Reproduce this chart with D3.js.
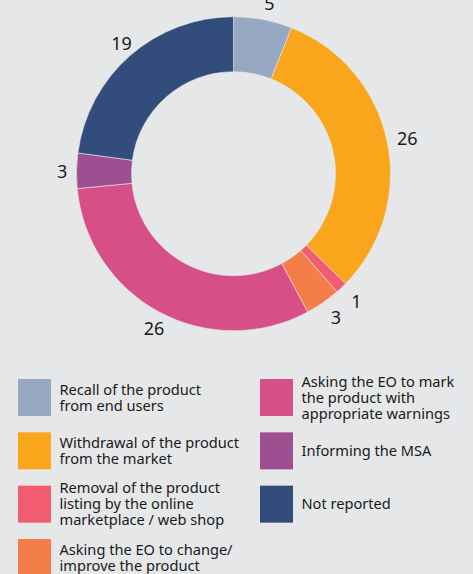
<!DOCTYPE html>
<html>
<head>
<meta charset="utf-8">
<script src="https://cdn.jsdelivr.net/npm/d3@7"></script>
<style>
  html, body { margin: 0; padding: 0; background: #e6e7e8; }
  svg { display: block; font-family: "Noto Sans", sans-serif; }
</style>
</head>
<body>
<script>
var categories = [
    "Recall of the product\nfrom end users",
    "Withdrawal of the product\nfrom the market",
    "Removal of the product\nlisting by the online\nmarketplace / web shop",
    "Asking the EO to change/\nimprove the product",
    "Asking the EO to mark\nthe product with\nappropriate warnings",
    "Informing the MSA",
    "Not reported"
];
var values = [5, 26, 1, 3, 26, 3, 19];
var colors = ["#97a8c3", "#f9a61d", "#f15d6e", "#f47d4a", "#d65087", "#9e4f92", "#324d7c"];

var svgWidth = 473;
var svgHeight = 574;

var cx = 233.5, cy = 173.7;
var outerR = 157, innerR = 102, labelR = 174.5;

var svg = d3.select("body")
    .append("svg")
    .attr("width", svgWidth)
    .attr("height", svgHeight);

var data = categories.map(function(c, i) {
    return { name: c, value: values[i], color: colors[i] };
});

var pie = d3.pie()
    .sort(null)
    .value(d => d.value);

var arc = d3.arc()
    .innerRadius(innerR)
    .outerRadius(outerR);

var labelArc = d3.arc()
    .innerRadius(labelR)
    .outerRadius(labelR);

var chartGroup = svg.append("g")
    .attr("transform", `translate(${cx}, ${cy})`);

var arcs = pie(data);

chartGroup.selectAll("path")
    .data(arcs)
    .enter()
    .append("path")
    .attr("d", arc)
    .attr("fill", d => d.data.color)
    .attr("stroke", "#e6e7e8")
    .attr("stroke-width", 0.6);

chartGroup.selectAll("text.val")
    .data(arcs)
    .enter()
    .append("text")
    .classed("val", true)
    .attr("x", d => labelArc.centroid(d)[0] + 3)
    .attr("y", d => labelArc.centroid(d)[1] + 1)
    .attr("text-anchor", "middle")
    .attr("dy", "0.35em")
    .attr("font-size", 18)
    .attr("fill", "#1a1a1a")
    .text(d => d.data.value);

// legend: two columns
var colX = [18, 260];
var rowY = d3.scalePoint()
    .domain([0, 1, 2, 3])
    .range([397.5, 557.5]);
var lineH = 16;

var legend = svg.append("g");

var items = legend.selectAll("g")
    .data(data)
    .enter()
    .append("g")
    .attr("transform", function(d, i) {
        var col = i < 4 ? 0 : 1;
        var row = i < 4 ? i : i - 4;
        return `translate(${colX[col]}, ${rowY(row)})`;
    });

items.append("rect")
    .attr("x", 0)
    .attr("y", -18.5)
    .attr("width", 33)
    .attr("height", 37)
    .attr("fill", d => d.color);

items.append("text")
    .attr("font-size", 14.6)
    .attr("fill", "#1a1a1a")
    .each(function(d) {
        var lines = d.name.split("\n");
        var t = d3.select(this);
        var start = -(lines.length - 1) * lineH / 2;
        lines.forEach(function(l, k) {
            t.append("tspan")
                .attr("x", 41.5)
                .attr("y", start + k * lineH)
                .attr("dy", "0.35em")
                .text(l);
        });
    });
</script>
</body>
</html>
